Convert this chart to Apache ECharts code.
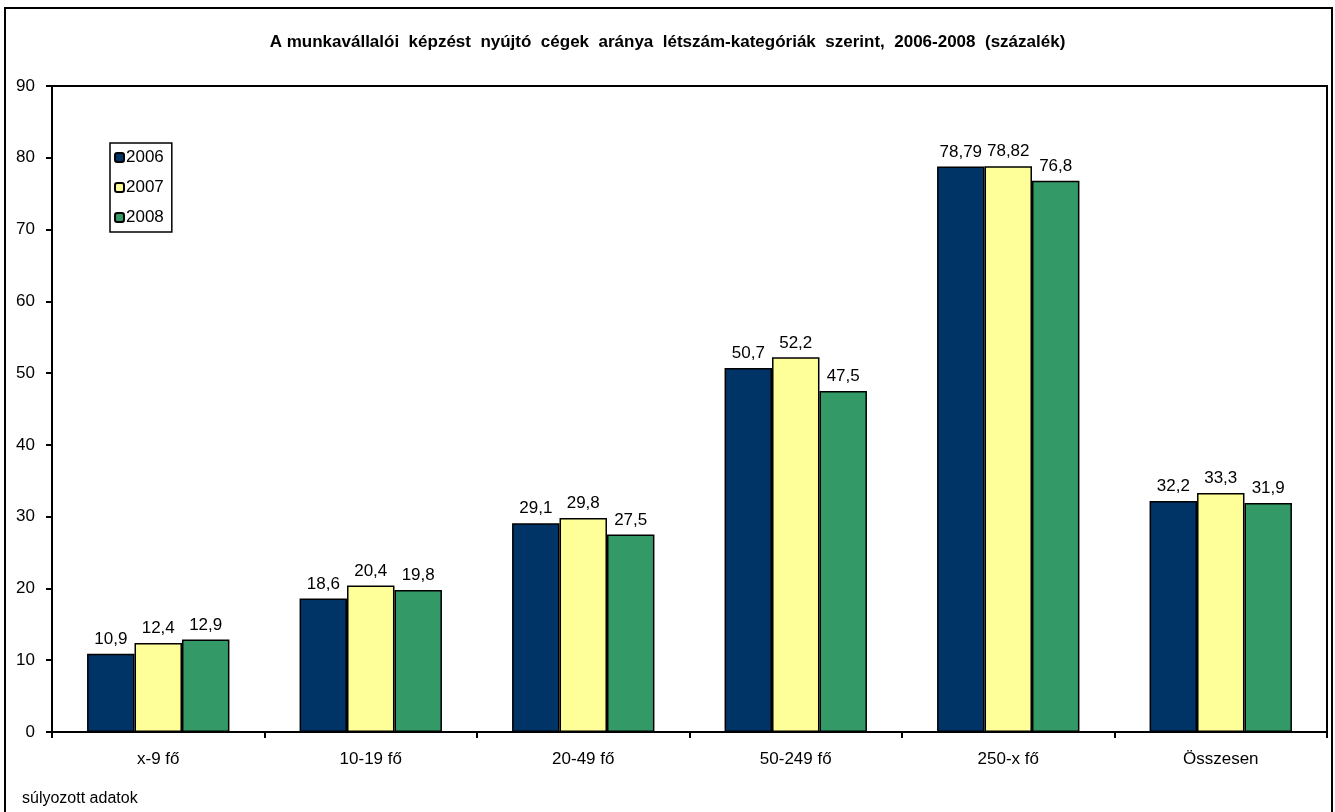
<!DOCTYPE html>
<html>
<head>
<meta charset="utf-8">
<script src="https://cdn.jsdelivr.net/npm/echarts@6/dist/echarts.min.js"></script>
<style>
  html, body { margin: 0; padding: 0; background: #fff; }
  #chart { width: 1335px; height: 812px; }
</style>
</head>
<body>
<div id="chart"></div>
<script>
// Share of companies providing employee training, by size category
const categories = ['x-9 fő', '10-19 fő', '20-49 fő', '50-249 fő', '250-x fő', 'Összesen'];
const years = ['2006', '2007', '2008'];
const values2006 = [10.9, 18.6, 29.1, 50.7, 78.79, 32.2];
const values2007 = [12.4, 20.4, 29.8, 52.2, 78.82, 33.3];
const values2008 = [12.9, 19.8, 27.5, 47.5, 76.8, 31.9];
const yTicks = { min: 0, max: 90, interval: 10 };
const colors = ['#003366', '#FFFF99', '#339966'];

const font = 'Arial, "Liberation Sans", sans-serif';
const chart = echarts.init(document.getElementById('chart'));

function makeSeries(name, data, color) {
  return {
    name: name,
    type: 'bar',
    data: data,
    barGap: '0%',
    barCategoryGap: '33%',
    itemStyle: { color: color, borderColor: '#000', borderWidth: 1.5 },
    label: {
      show: true,
      position: 'top',
      distance: 6,
      color: '#000',
      fontFamily: font,
      fontSize: 17,
      formatter: p => String(p.value).replace('.', ',')
    }
  };
}

chart.setOption({
  animation: false,
  backgroundColor: '#fff',
  title: {
    text: 'A munkavállalói  képzést  nyújtó  cégek  aránya  létszám-kategóriák  szerint,  2006-2008  (százalék)',
    left: 'center',
    top: 29,
    textStyle: { fontFamily: font, fontSize: 17, fontWeight: 'bold', color: '#000' }
  },
  graphic: [
    {
      type: 'rect',
      shape: { x: 5, y: 8, width: 1327, height: 820 },
      style: { fill: 'none', stroke: '#000', lineWidth: 2 },
      silent: true
    },
    {
      type: 'text',
      left: 22,
      top: 791,
      style: { text: 'súlyozott adatok', font: '16px ' + font, fill: '#000' }
    }
  ],
  legend: {
    data: years,
    orient: 'vertical',
    left: 110,
    top: 143,
    padding: [6, 8, 6, 4],
    itemWidth: 9,
    itemHeight: 9,
    itemGap: 13,
    borderColor: '#000',
    borderWidth: 1.5,
    textStyle: { fontFamily: font, fontSize: 17, color: '#000', padding: [0, 0, 0, -3] }
  },
  grid: {
    left: 52, right: 8, top: 86, bottom: 80,
    show: true, borderColor: '#000', borderWidth: 2, backgroundColor: 'transparent'
  },
  xAxis: {
    type: 'category',
    data: categories,
    axisLine: { lineStyle: { color: '#000', width: 2 } },
    axisTick: { show: true, alignWithLabel: false, length: 6, lineStyle: { color: '#000', width: 2 } },
    axisLabel: { color: '#000', fontFamily: font, fontSize: 17, margin: 19 },
    splitLine: { show: false }
  },
  yAxis: {
    type: 'value',
    min: yTicks.min,
    max: yTicks.max,
    interval: yTicks.interval,
    axisLine: { show: true, lineStyle: { color: '#000', width: 2 } },
    axisTick: { show: true, length: 6, lineStyle: { color: '#000', width: 2 } },
    axisLabel: { color: '#000', fontFamily: font, fontSize: 17, margin: 17 },
    splitLine: { show: false }
  },
  series: [
    makeSeries(years[0], values2006, colors[0]),
    makeSeries(years[1], values2007, colors[1]),
    makeSeries(years[2], values2008, colors[2])
  ]
});
</script>
</body>
</html>
